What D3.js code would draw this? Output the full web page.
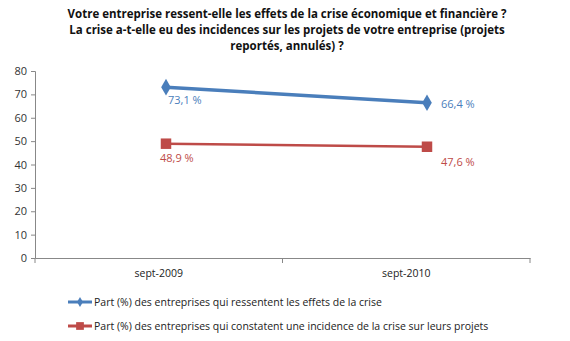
<!DOCTYPE html>
<html>
<head>
<meta charset="utf-8">
<script src="https://cdn.jsdelivr.net/npm/d3@7"></script>
<style>
  body { margin: 0; background: #fff; }
  svg { display: block; font-family: "Open Sans", "DejaVu Sans", sans-serif; }
</style>
</head>
<body>
<div id="chart"></div>
<script>
// chart data
const categories = ['sept-2009', 'sept-2010'];
const seriesNames = [
  'Part (%) des entreprises qui ressentent les effets de la crise',
  'Part (%) des entreprises qui constatent une incidence de la crise sur leurs projets'
];
const effetsCrise = [73.1, 66.4];
const incidenceProjets = [48.9, 47.6];
const yTicks = [0, 10, 20, 30, 40, 50, 60, 70, 80];
const titleLines = [
  'Votre entreprise ressent-elle les effets de la crise économique et financière ?',
  'La crise a-t-elle eu des incidences sur les projets de votre entreprise (projets',
  'reportés, annulés) ?'
];

const width = 570, height = 341;
const colors = ['#4a7ebb', '#be4b48'];
const fmt = v => d3.format('.1f')(v).replace('.', ',') + ' %';

const svg = d3.select('#chart').append('svg')
  .attr('width', width).attr('height', height);

// title
svg.append('g').selectAll('text')
  .data(titleLines)
  .join('text')
  .attr('x', 287)
  .attr('y', (d, i) => 18 + i * 16)
  .attr('text-anchor', 'middle')
  .attr('font-size', '11.5px')
  .attr('font-weight', 'bold')
  .attr('fill', '#111')
  .text(d => d);

const y = d3.scaleLinear().domain([0, 80]).range([258, 71]);
const xBand = d3.scaleBand().domain(categories).range([35, 530]);
// markers sit a little right of the band centres in the original
const xPoint = d3.scalePoint().domain(categories).range([166, 427]);

// y axis
const yAxis = svg.append('g')
  .attr('transform', 'translate(35,0)')
  .call(d3.axisLeft(y).tickValues(yTicks).tickSize(4).tickPadding(4));
yAxis.select('.domain').attr('stroke', '#888');
yAxis.selectAll('.tick line').attr('stroke', '#888');
yAxis.selectAll('.tick text').attr('fill', '#333').attr('font-size', '11px')
  .attr('font-family', '"Open Sans", sans-serif');

// x axis
const xAxis = svg.append('g')
  .attr('transform', 'translate(0,258)')
  .call(d3.axisBottom(xBand).tickSize(0).tickPadding(12));
xAxis.select('.domain').attr('stroke', '#888');
xAxis.selectAll('.tick text').attr('fill', '#222').attr('font-size', '10.5px')
  .attr('font-family', '"Open Sans", sans-serif');
// category dividers
svg.append('g').selectAll('line')
  .data([35].concat(categories.map(c => xBand(c) + xBand.bandwidth())))
  .join('line')
  .attr('x1', d => d).attr('x2', d => d)
  .attr('y1', 258).attr('y2', 263)
  .attr('stroke', '#888');

const series = [effetsCrise, incidenceProjets];
const line = d3.line()
  .x((d, i) => xPoint(categories[i]))
  .y(d => y(d))
  .curve(d3.curveMonotoneX);

const diamond = d3.symbol().type(d3.symbolDiamond).size(80);
const square = d3.symbol().type(d3.symbolSquare).size(110);

series.forEach((vals, s) => {
  svg.append('path')
    .datum(vals)
    .attr('d', line)
    .attr('fill', 'none')
    .attr('stroke', colors[s])
    .attr('stroke-width', s === 0 ? 3.5 : 2.5);

  svg.append('g').selectAll('path')
    .data(vals)
    .join('path')
    .attr('transform', (d, i) => `translate(${xPoint(categories[i])},${y(d)})`)
    .attr('d', s === 0 ? diamond : square)
    .attr('fill', colors[s]);
});

// value labels
const labelPos = [
  [{ dx: 2, dy: 17, anchor: 'start' }, { dx: 14, dy: 5, anchor: 'start' }],
  [{ dx: -6, dy: 18, anchor: 'start' }, { dx: 14, dy: 19, anchor: 'start' }]
];
series.forEach((vals, s) => {
  svg.append('g').selectAll('text')
    .data(vals)
    .join('text')
    .attr('x', (d, i) => xPoint(categories[i]) + labelPos[s][i].dx)
    .attr('y', (d, i) => y(d) + labelPos[s][i].dy)
    .attr('text-anchor', (d, i) => labelPos[s][i].anchor)
    .attr('font-size', '11px')
    .attr('fill', colors[s])
    .text(d => fmt(d));
});

// legend
const legend = svg.append('g').selectAll('g')
  .data(seriesNames)
  .join('g')
  .attr('transform', (d, i) => `translate(68,${302 + i * 24})`);
legend.append('line')
  .attr('x1', 0).attr('x2', 24)
  .attr('stroke', (d, i) => colors[i])
  .attr('stroke-width', 3);
legend.append('path')
  .attr('transform', 'translate(12,0)')
  .attr('d', (d, i) => i === 0 ? d3.symbol().type(d3.symbolDiamond).size(30)() : d3.symbol().type(d3.symbolSquare).size(60)())
  .attr('fill', (d, i) => colors[i]);
legend.append('text')
  .attr('x', 26)
  .attr('dy', '0.35em')
  .attr('font-size', '10.5px')
  .attr('fill', '#222')
  .text(d => d);
</script>
</body>
</html>
